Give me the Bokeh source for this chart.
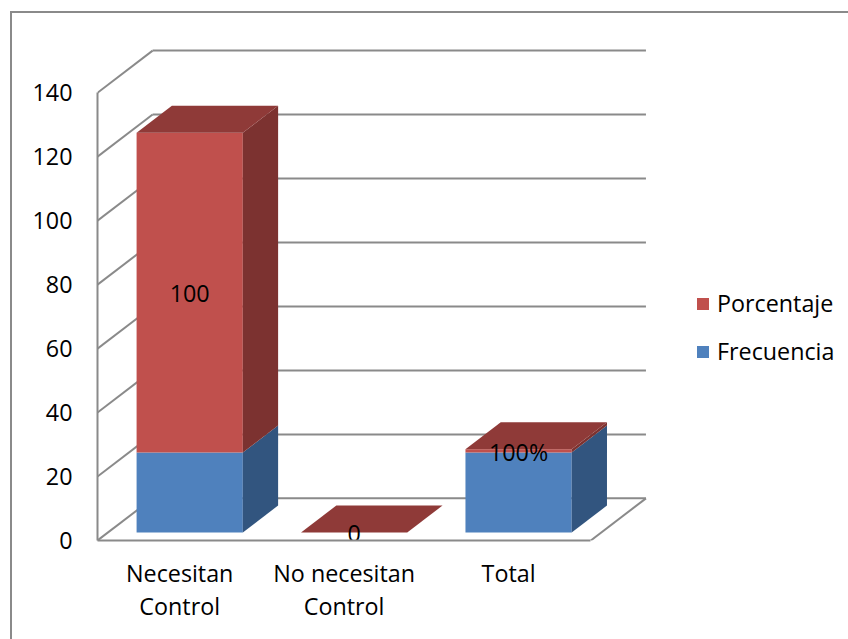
from bokeh.plotting import figure
from bokeh.embed import file_html
from bokeh.resources import INLINE
from bokeh.models import Legend, LegendItem, LinearAxis, FixedTicker, Range1d
from bokeh.core.properties import value

categories = ["Necesitan\nControl", "No necesitan\nControl", "Total"]
frecuencia = [25, 0, 25]
porcentaje = [100, 0, 1]
porcentaje_labels = ["100", "0", "100%"]
value_ticks = [0, 20, 40, 60, 80, 100, 120, 140]

FONT = "Open Sans"
SIZE = "23.3px"
GRID = "#8a8a8a"
PX_X = 164.0       # pixels per category
PX_Y = 3.186       # pixels per value unit
DX = 55 / PX_X     # depth of the 3D box, in data units
DY = 42 / PX_Y
F0, F1 = 0.19, 0.83  # front and back of the bars within the depth
GAP = 0.174
BAR = 0.646

W, H = 838, 628
LEFT = 85          # frame left, from the figure's left
TOP = 0
BOTTOM = 101
frame_w = W - LEFT - 2
frame_h = H - TOP - BOTTOM - 2

p = figure(width=W, height=H, output_backend="svg", toolbar_location=None,
           x_range=Range1d(0, frame_w / PX_X), y_range=Range1d(0, frame_h / PX_Y),
           x_axis_location=None, y_axis_location=None,
           min_border_left=LEFT, min_border_right=0, min_border_top=TOP, min_border_bottom=BOTTOM)
p.margin = (11, 0, 0, 10)
p.styles = {"border-top": f"2px solid {GRID}", "border-left": f"2px solid {GRID}", "box-sizing": "border-box"}
p.grid.visible = False
p.outline_line_color = None
p.background_fill_color = None

# Walls
n_cat = len(categories)
p.segment([0] * len(value_ticks), value_ticks, [DX] * len(value_ticks), [v + DY for v in value_ticks],
          line_color=GRID, line_width=2)
p.segment([DX] * len(value_ticks), [v + DY for v in value_ticks], [n_cat + DX] * len(value_ticks),
          [v + DY for v in value_ticks], line_color=GRID, line_width=2)
p.segment([n_cat], [0], [n_cat + DX], [DY], line_color=GRID, line_width=2)


def faces(bases, heights):
    front_x, front_y, side_x, side_y, top_x, top_y = [], [], [], [], [], []
    for i, (b, h) in enumerate(zip(bases, heights)):
        l = i + GAP + F0 * DX
        r = l + BAR
        d = (F1 - F0) * DX
        e = (F1 - F0) * DY
        y0 = b + F0 * DY
        y1 = y0 + h
        front_x.append([l, r, r, l]); front_y.append([y0, y0, y1, y1])
        side_x.append([r, r + d, r + d, r]); side_y.append([y0, y0 + e, y1 + e, y1])
        top_x.append([l, r, r + d, l + d]); top_y.append([y1, y1, y1 + e, y1 + e])
    return front_x, front_y, side_x, side_y, top_x, top_y


fx, fy, sx, sy, tx, ty = faces([0] * n_cat, frecuencia)
keep = [i for i, v in enumerate(frecuencia) if v > 0]
r_f = p.patches([fx[i] for i in keep], [fy[i] for i in keep], fill_color="#4F81BD", line_color=None)
p.patches([sx[i] for i in keep], [sy[i] for i in keep], fill_color="#32557F", line_color=None)

fx2, fy2, sx2, sy2, tx2, ty2 = faces(frecuencia, porcentaje)
r_p = p.patches(fx2, fy2, fill_color="#C0504D", line_color=None)
p.patches(sx2, sy2, fill_color="#7C3230", line_color=None)
p.patches(tx2, ty2, fill_color="#8F3A38", line_color=None)

# Data labels
lab_x = [i + GAP + F0 * DX + BAR / 2 for i in range(n_cat)]
lab_y = [b + v / 2 + F0 * DY for b, v in zip(frecuencia, porcentaje)]
p.text(lab_x, lab_y, text=porcentaje_labels, text_font=value(FONT), text_font_size=value(SIZE),
       text_align="center", text_baseline="middle", text_color="#000000", y_offset=1)

# Axes
yaxis = LinearAxis(ticker=FixedTicker(ticks=value_ticks), bounds=(0, 140))
yaxis.axis_line_color = GRID
yaxis.axis_line_width = 2
yaxis.major_tick_line_color = None
yaxis.minor_tick_line_color = None
yaxis.major_tick_out = 0
yaxis.major_tick_in = 0
yaxis.major_label_standoff = 25
yaxis.major_label_text_font = FONT
yaxis.major_label_text_font_size = SIZE
yaxis.major_label_text_color = "#000000"
p.add_layout(yaxis, "left")

cat_ticks = [i + 0.5 for i in range(n_cat)]
xaxis = LinearAxis(ticker=FixedTicker(ticks=cat_ticks), bounds=(0, n_cat))
xaxis.major_label_overrides = dict(zip(cat_ticks, categories))
xaxis.axis_line_color = GRID
xaxis.axis_line_width = 2
xaxis.major_tick_line_color = None
xaxis.minor_tick_line_color = None
xaxis.major_tick_out = 0
xaxis.major_tick_in = 0
xaxis.major_label_standoff = 16
xaxis.major_label_text_font = FONT
xaxis.major_label_text_font_size = SIZE
xaxis.major_label_text_color = "#000000"
xaxis.major_label_text_line_height = 1.04
p.add_layout(xaxis, "below")

legend = Legend(items=[LegendItem(label="Porcentaje", renderers=[r_p]),
                       LegendItem(label="Frecuencia", renderers=[r_f])],
                location=(598, 173), orientation="vertical")
legend.glyph_width = 15
legend.glyph_height = 15
legend.label_height = 15
legend.label_standoff = 7
legend.spacing = 16
legend.padding = 0
legend.margin = 0
legend.border_line_color = None
legend.background_fill_color = None
legend.label_text_font = FONT
legend.label_text_font_size = SIZE
legend.label_text_color = "#000000"
p.add_layout(legend, "center")

open("out.html", "w").write(file_html(p, INLINE))
